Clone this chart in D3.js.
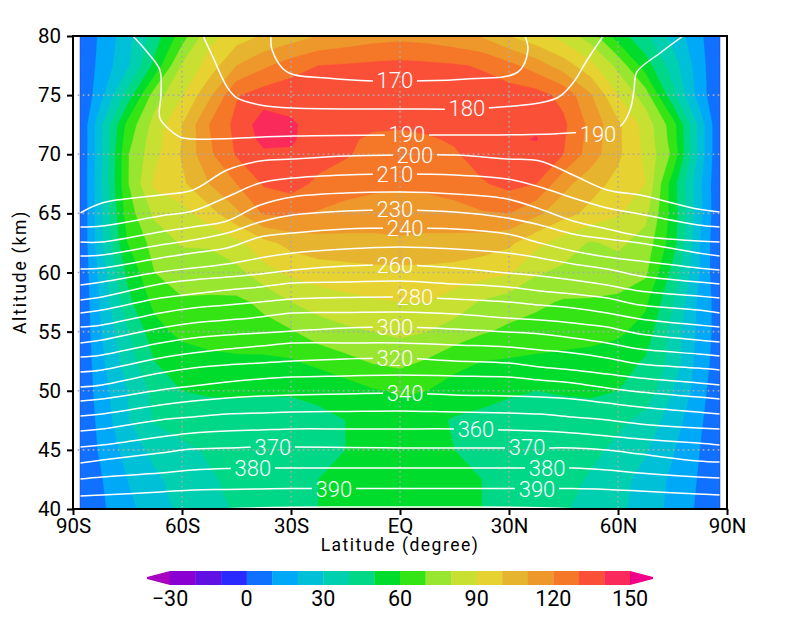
<!DOCTYPE html>
<html><head><meta charset="utf-8">
<script src="https://cdn.jsdelivr.net/npm/d3@7/dist/d3.min.js"></script>
<style>html,body{margin:0;padding:0;background:#fff}svg{display:block}text{font-family:Roboto,sans-serif;fill:#000}</style>
</head><body><svg id="c" width="800" height="618"></svg>
<script>
// ---- data ----
const windLats = [-88,-82.5,-75,-67.5,-60,-52.5,-45,-37.5,-30,-22.5,-15,-7.5,0,7.5,15,22.5,30,37.5,45,52.5,60,67.5,75,82.5,88];
const windAlts = [40,42.5,45,47.5,50,52.5,55,57.5,60,62.5,65,67.5,70,71.25,72.5,75,77.5,80];
const wind40 = [3,8,17,26,32,37,41,44,47,50,53,55,56,55,53,50,47,44,41,37,32,26,17,8,3];
const wind42 = [3,9,20,28,34,39,42,45,48,50,53,55,56,55,53,50,47,45,43,39,33,27,18,9,3];
const wind45 = [3.5,11,24,33,38,41,43,45,46,48,50,53,55,52,50,49,47,46,44,42,38,31,21,10,4];
const wind47 = [1,13,29,41,44,46,47,48,48,49,50,53,56,53,49,48,47,46,45,44,42,37,25,12,0.5];
const wind50 = [0.7,15,30,43,50,51,51,50.5,50.5,51,55,59,61,60,56,53,51,50,51,52,50,46,30,15,0.5];
const wind52 = [0.5,17,35,50,54,57,58,58,59,63,67,71,73,69,63,60,59,58,57,56,54,49,37,15,5];
const wind55 = [0.5,19,39,56,63,65,66,67,69,75,78,80,82,80,76,71,68,66,65,64,62,56,36,17,5];
const wind57 = [0.5,21,47,63,69,68,68,72,80,84,87,89,90,90,85,79,75,72,69,69,68,62,41,17,5];
const wind60 = [0.5,23,52,70,74,76,77,86,92,95,96,97,97,97,96,94,91,81,78,76,75,72,47,20,0.5];
const wind62 = [0.5,27,60,74,81,81,87,97,103,106,107,108,109,108,107,105,102,93,85,79,82,76,55,20,0.5];
const wind65 = [0.5,27,65,82,86,96,108,121,122,119,116,114,113,114,116,119,120,112,104,97,91,83,56,23,0.5];
const wind67 = [0.5,28,69,92,98,110,120,131,134,128,125,123,122,123,125,129,133,130,113,104,97,90,55,22,0.5];
const wind70 = [0.5,27,69,87,101,118,131,138,139,134,131,127,125,126,129,134,138,135,130,115,102,88,68,26,0.5];
const wind71 = [0.5,27,66,86,100,119,132,143,141,136,132,128,128,129,131,135,138,140.6,131,116,102,87,66,26,0.5];
const wind72 = [0.5,27,63,84,100,120,133,145,141,137,134,132,131,132,134,136,138,138,132,117,102,86,65,26,0.5];
const wind75 = [0.5,16,44,75,89,108,129,135,137,137,137,137,137,137,136,135,135,134,127,111,90,75,43,15,0.7];
const wind77 = [1,13,28,53,81,94,110,118,125,130,131,132,133,132,131,129,123,115,105,93,77,55,35,14,0.5];
const wind80 = [4,11,26,45,65,87,95,101,105,110,113,116,117,116,113,109,100,93,86,75,55,42,27,12,0.5];
const windRows = [wind40,wind42,wind45,wind47,wind50,wind52,wind55,wind57,wind60,wind62,wind65,wind67,wind70,wind71,wind72,wind75,wind77,wind80];

const colorLevels = [-30,-20,-10,0,10,20,30,40,50,60,70,80,90,100,110,120,130,140,150];
const bandColors = ["#8a00d2","#6010e2","#2a2aff","#1070ff","#00a8f8","#00c0d8","#00d0b0","#00d888","#00dc2c","#34e414","#98e630","#c8e032","#e6d230","#e6b42e","#ee982c","#f47828","#fa5038","#fa2a5a","#f00088"];
const underColor = "#a800c0";
const barTicks = [-30,0,30,60,90,120,150];

const lineLats = [-88,-82,-66,-57,-47.6,-38.5,-29.5,-15,0,15,29.5,38.5,47.6,57,66,82,88];
const line200 = [65.03,65.88,66.55,66.98,68.67,69.43,69.60,69.85,69.94,69.94,69.60,69.43,68.25,66.98,66.55,65.37,65.12];
const line210 = [63.85,63.93,64.78,65.20,66.39,67.57,67.99,68.25,68.33,68.25,67.91,67.23,66.30,65.46,64.95,64.02,63.85];
const line220 = [62.58,62.58,63.43,63.85,64.36,65.71,66.39,66.72,66.81,66.64,66.22,65.37,64.36,63.68,63.09,62.66,62.58];
const line230 = [61.40,61.48,62.33,62.75,63.34,64.27,64.86,65.20,65.29,65.12,64.61,64.02,63.26,62.83,62.50,61.65,61.40];
const line240 = [60.30,60.38,61.23,61.65,62.07,63.00,63.34,63.68,63.76,63.68,63.26,62.50,61.82,61.31,60.97,60.38,60.21];
const line250 = [58.94,59.20,60.04,60.38,60.72,61.23,61.65,61.99,62.16,61.99,61.65,61.23,60.72,60.30,59.70,59.20,59.03];
const line260 = [57.67,57.93,59.03,59.37,59.62,59.87,60.21,60.55,60.63,60.38,59.96,59.70,59.37,58.94,58.44,58.01,57.84];
const line270 = [56.58,56.83,57.84,58.18,58.52,58.77,59.11,59.20,59.28,59.03,58.77,58.44,58.18,57.84,57.25,56.83,56.58];
const line280 = [55.39,55.56,56.58,57.00,57.25,57.51,57.76,57.89,57.93,57.76,57.51,57.25,57.00,56.58,56.07,55.56,55.39];
const line290 = [54.04,54.29,55.31,55.73,55.98,56.24,56.58,56.62,56.66,56.49,56.15,55.98,55.73,55.39,54.80,54.29,54.12];
const line300 = [52.85,53.02,54.04,54.46,54.72,54.88,55.05,55.31,55.39,55.22,54.97,54.80,54.46,54.04,53.53,53.11,52.94];
const line310 = [51.59,51.76,52.77,53.19,53.53,53.78,54.04,54.04,54.04,53.87,53.70,53.45,53.19,52.77,52.26,51.92,51.76];
const line320 = [50.32,50.49,51.50,51.92,52.18,52.35,52.52,52.69,52.77,52.52,52.35,52.01,51.76,51.42,51.08,50.66,50.49];
const line330 = [49.13,49.30,50.06,50.40,50.74,50.99,51.16,51.25,51.33,51.25,51.16,50.91,50.66,50.23,49.89,49.47,49.30];
const line340 = [47.86,48.03,48.80,49.13,49.39,49.56,49.64,49.73,49.81,49.64,49.56,49.47,49.30,48.96,48.63,48.20,48.03];
const line350 = [46.60,46.77,47.53,47.78,48.03,48.12,48.20,48.25,48.29,48.20,48.12,48.03,47.78,47.53,47.19,46.85,46.77];
const line360 = [45.24,45.41,46.09,46.43,46.60,46.68,46.77,46.77,46.77,46.77,46.68,46.60,46.43,46.17,45.92,45.58,45.41];
const line370 = [43.89,44.14,44.74,45.07,45.16,45.24,45.24,45.20,45.16,45.16,45.16,45.16,45.16,44.99,44.65,44.06,43.97];
const line380 = [42.54,42.71,43.04,43.30,43.43,43.47,43.47,43.47,43.47,43.47,43.47,43.47,43.47,43.30,43.04,42.71,42.62];
const line390 = [41.10,41.18,41.44,41.61,41.65,41.69,41.73,41.73,41.73,41.73,41.73,41.73,41.73,41.65,41.52,41.27,41.18];
const line400Lats = [-50,-38.5,-29.5,-15,0,15,29.5,38.5,50];
const line400 = [40,40.1,40.15,40.17,40.17,40.17,40.15,40.1,40];
const line170Lats = [-35.5,-35.2,-31.1,-20.1,-7.4,4.7,18.4,32.5,35.2,34.4];
const line170 = [80,78.82,76.96,76.45,76.2,76.2,76.37,76.96,78.82,80];
const line180Lats = [-54.2,-51.5,-47.6,-44.9,-38.5,-29.5,0,23.9,43.2,47.6,51.5,55.9];
const line180 = [80,78.22,75.69,74.76,74.17,73.91,73.83,73.91,74.76,76.03,77.97,80];
const line190Lats = [-73.5,-69.6,-66.1,-65.8,-66.1,-63.3,-60.6,-57,-29.5,0,27.5,46.8,60.3,63.3,64.4,65.2,71.6,77.9];
const line190 = [80,78.65,77.13,75.01,73.07,72.05,71.46,71.29,71.54,71.63,71.63,71.8,72.31,73.74,75.43,76.96,78.56,80];

const labelValues = [170,180,190,190,200,210,230,240,260,280,300,320,340,360,370,370,380,380,390,390];
const labelLats = [-1.4,18.4,1.9,54.5,4.1,-1.4,-1.4,1.4,-1.4,4.1,-1.4,-1.4,1.4,20.9,-35,35,-40.5,40.5,-18.2,37.7];
const labelAlts = [76.28,73.91,71.71,71.71,69.94,68.33,65.37,63.76,60.63,57.93,55.39,52.77,49.81,46.77,45.24,45.24,43.47,43.47,41.73,41.73];

const latTicks = [-90,-60,-30,0,30,60,90];
const latTickLabels = ["90S","60S","30S","EQ","30N","60N","90N"];
const altTicks = [40,45,50,55,60,65,70,75,80];
const gridLats = [-60,-30,0,30,60];
const gridAlts = [45,50,55,60,65,70,75];

// ---- drawing ----
const svg = d3.select("#c");
const x = d3.scaleLinear().domain([-90,90]).range([73,727]);
const y = d3.scaleLinear().domain([40,80]).range([509,36]);

// filled contours on the (non-uniform) grid
const nx = windLats.length, ny = windAlts.length;
const iLat = d3.scaleLinear().domain(windLats.map((_,i)=>i+0.5)).range(windLats).clamp(true);
const iAlt = d3.scaleLinear().domain(windAlts.map((_,i)=>i+0.5)).range(windAlts).clamp(true);
const flat = windRows.flat();
const contours = d3.contours().size([nx,ny]).thresholds(colorLevels).smooth(true)(flat);
const pathOf = d3.geoPath(d3.geoTransform({point(px,py){this.stream.point(x(iLat(px)),y(iAlt(py)));}}));
svg.append("g").selectAll("path").data(contours).join("path")
  .attr("d",pathOf)
  .attr("fill",d=>bandColors[colorLevels.indexOf(d.value)])
  .attr("stroke",d=>bandColors[colorLevels.indexOf(d.value)]).attr("stroke-width",0.3);

// dotted grid
const grid = svg.append("g").attr("stroke","#aaa").attr("stroke-width",1.6).attr("stroke-dasharray","1.6 3.4").attr("fill","none");
grid.selectAll("line.v").data(gridLats).join("line").attr("x1",d=>x(d)).attr("x2",d=>x(d)).attr("y1",y(80)).attr("y2",y(40));
grid.selectAll("line.h").data(gridAlts).join("line").attr("y1",d=>y(d)).attr("y2",d=>y(d)).attr("x1",x(-88.7)).attr("x2",x(88.7));

// contour lines with gaps cut for labels
const defs = svg.append("defs");
const mask = defs.append("mask").attr("id","gaps").attr("maskUnits","userSpaceOnUse").attr("x",0).attr("y",0).attr("width",800).attr("height",618);
mask.append("rect").attr("width",800).attr("height",618).attr("fill","#fff");
mask.selectAll("rect.g").data(labelValues).join("rect").attr("class","g")
  .attr("x",(d,i)=>x(labelLats[i])-22).attr("y",(d,i)=>y(labelAlts[i])-11).attr("width",44).attr("height",22).attr("fill","#000");
defs.append("clipPath").attr("id","plot").append("rect").attr("x",x(-88)).attr("y",y(80)).attr("width",x(88)-x(-88)).attr("height",y(40)-y(80));

const lineGen = d3.line().x(d=>x(d[0])).y(d=>y(d[1])).curve(d3.curveCatmullRom.alpha(0.5));
const zip = (a,b)=>a.map((v,i)=>[v,b[i]]);
const allLines = [zip(line170Lats,line170),zip(line180Lats,line180),zip(line190Lats,line190),
  ...[line200,line210,line220,line230,line240,line250,line260,line270,line280,line290,line300,line310,line320,line330,line340,line350,line360,line370,line380,line390].map(l=>zip(lineLats,l)),
  zip(line400Lats,line400)];
svg.append("g").attr("clip-path","url(#plot)").append("g").attr("mask","url(#gaps)")
  .selectAll("path").data(allLines).join("path").attr("d",lineGen)
  .attr("fill","none").attr("stroke","#fff").attr("stroke-width",1.5);

svg.append("g").selectAll("text").data(labelValues).join("text")
  .attr("x",(d,i)=>x(labelLats[i])).attr("y",(d,i)=>y(labelAlts[i])+8)
  .attr("text-anchor","middle").attr("font-size",22).attr("font-weight",300)
  .style("fill","#fff").text(d=>d);

// axes
const xAxis = d3.axisBottom(x).tickValues(latTicks).tickFormat((d,i)=>latTickLabels[i]).tickSize(6).tickPadding(3);
const yAxis = d3.axisLeft(y).tickValues(altTicks).tickSize(6).tickPadding(6);
const gx = svg.append("g").attr("transform","translate(0,509)").call(xAxis);
const gy = svg.append("g").attr("transform","translate(73,0)").call(yAxis);
[gx,gy].forEach(g=>{g.select(".domain").remove();g.selectAll("line").attr("stroke","#000").attr("stroke-width",2);
  g.selectAll("text").attr("font-size",20.5).style("font-family","Roboto,sans-serif");});
svg.append("rect").attr("x",x(-90)).attr("y",y(80)).attr("width",x(90)-x(-90)).attr("height",y(40)-y(80))
  .attr("fill","none").attr("stroke","#000").attr("stroke-width",2);

svg.append("text").attr("x",400).attr("y",551).attr("text-anchor","middle").attr("font-size",17.5).attr("letter-spacing",1.5).style("font-family","Roboto,sans-serif").text("Latitude (degree)");
svg.append("text").attr("transform","translate(26,272) rotate(-90)").attr("text-anchor","middle").attr("font-size",17.5).attr("letter-spacing",1.8).text("Altitude (km)");

// colour bar
const bar = d3.scaleLinear().domain([-30,150]).range([170,630]);
const barTop = 571, barBot = 585, barMid = 578;
const bg = svg.append("g");
bg.selectAll("rect").data(colorLevels.slice(0,-1)).join("rect")
  .attr("x",d=>bar(d)).attr("y",barTop).attr("width",d=>bar(d+10)-bar(d)+0.3).attr("height",barBot-barTop)
  .attr("fill",(d,i)=>bandColors[i]);
bg.append("path").attr("d",d3.line()([[bar(-30),barTop],[bar(-39),barMid-1],[bar(-39),barMid+1],[bar(-30),barBot]])+"Z").attr("fill",underColor);
bg.append("path").attr("d",d3.line()([[bar(150),barTop],[bar(159),barMid-1],[bar(159),barMid+1],[bar(150),barBot]])+"Z").attr("fill",bandColors[18]);
bg.selectAll("text").data(barTicks).join("text").attr("x",d=>bar(d)).attr("y",606).attr("text-anchor","middle")
  .attr("font-size",21.5).text(d=>d<0?"\u2212"+(-d):d);
</script></body></html>
